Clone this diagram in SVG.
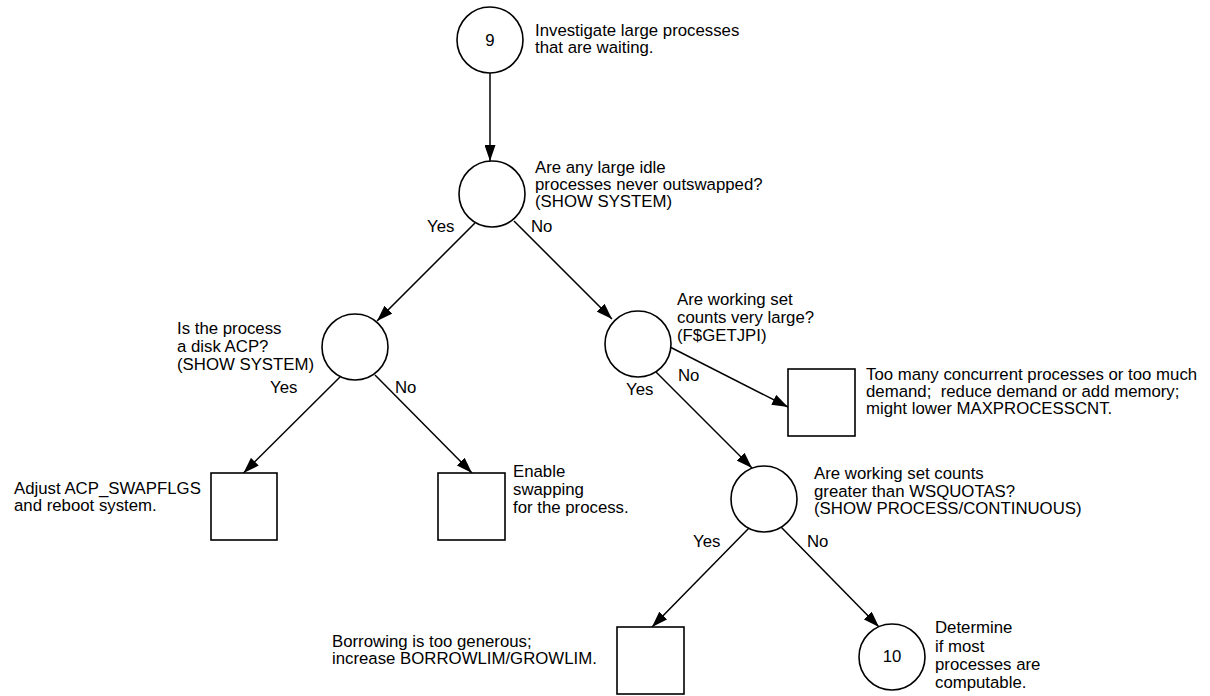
<svg xmlns="http://www.w3.org/2000/svg" width="1210" height="696" viewBox="0 0 1210 696">
<style>
  .node { fill: #fff; stroke: #000; stroke-width: 1.6; }
  .edge { fill: none; stroke: #000; stroke-width: 1.5; marker-end: url(#arrow); }
  text { font-family: "Liberation Sans", Arial, sans-serif; font-size: 16.8px; fill: #000; }
  .mid { text-anchor: middle; }
</style>
<defs>
  <marker id="arrow" markerUnits="userSpaceOnUse" markerWidth="17" markerHeight="11" refX="16" refY="5.5" orient="auto">
    <path d="M0,0 L16,5.5 L0,11 z" fill="#000"/>
  </marker>
</defs>
<rect width="1210" height="696" fill="#fff"/>

<g id="connectors">
  <line class="edge" x1="490" y1="73" x2="490" y2="161"/>
  <line class="edge" x1="475" y1="223" x2="377" y2="321"/>
  <line class="edge" x1="514" y1="221" x2="612" y2="319"/>
  <line class="edge" x1="340" y1="377" x2="243.5" y2="473"/>
  <line class="edge" x1="375" y1="375" x2="472" y2="473"/>
  <line class="edge" x1="670" y1="347" x2="788" y2="407"/>
  <line class="edge" x1="656" y1="372" x2="752" y2="468"/>
  <line class="edge" x1="749" y1="528" x2="652" y2="627"/>
  <line class="edge" x1="781" y1="527" x2="879" y2="627"/>
  <text x="427" y="232">Yes</text>
  <text x="531" y="232">No</text>
  <text x="270" y="393">Yes</text>
  <text x="395" y="393">No</text>
  <text x="626" y="395">Yes</text>
  <text x="678" y="381">No</text>
  <text x="693" y="547">Yes</text>
  <text x="807" y="547">No</text>
</g>

<g id="n9">
  <circle class="node" cx="490" cy="40" r="33"/>
  <text class="mid" x="490" y="46">9</text>
  <text x="535" y="36">Investigate large processes</text>
  <text x="535" y="53">that are waiting.</text>
</g>

<g id="q1">
  <circle class="node" cx="492" cy="194" r="33"/>
  <text x="535" y="173">Are any large idle</text>
  <text x="535" y="190">processes never outswapped?</text>
  <text x="535" y="207">(SHOW SYSTEM)</text>
</g>

<g id="q2">
  <circle class="node" cx="355" cy="347" r="33"/>
  <text x="177" y="334">Is the process</text>
  <text x="177" y="352">a disk ACP?</text>
  <text x="177" y="370">(SHOW SYSTEM)</text>
</g>

<g id="q3">
  <circle class="node" cx="638" cy="344" r="33"/>
  <text x="677" y="305">Are working set</text>
  <text x="677" y="323">counts very large?</text>
  <text x="677" y="341">(F$GETJPI)</text>
</g>

<g id="box-acp">
  <rect class="node" x="211" y="473" width="66" height="67"/>
  <text x="14" y="494">Adjust ACP_SWAPFLGS</text>
  <text x="14" y="511">and reboot system.</text>
</g>

<g id="box-swap">
  <rect class="node" x="438" y="473" width="67" height="67"/>
  <text x="513" y="477">Enable</text>
  <text x="513" y="495">swapping</text>
  <text x="513" y="513">for the process.</text>
</g>

<g id="box-demand">
  <rect class="node" x="788" y="369" width="67" height="67"/>
  <text x="866" y="380">Too many concurrent processes or too much</text>
  <text x="866" y="397">demand;&#160; reduce demand or add memory;</text>
  <text x="866" y="414">might lower MAXPROCESSCNT.</text>
</g>

<g id="q4">
  <circle class="node" cx="764" cy="499" r="33"/>
  <text x="814" y="479">Are working set counts</text>
  <text x="814" y="497">greater than WSQUOTAS?</text>
  <text x="814" y="514">(SHOW PROCESS/CONTINUOUS)</text>
</g>

<g id="box-borrow">
  <rect class="node" x="617" y="627" width="67" height="67"/>
  <text x="332" y="647">Borrowing is too generous;</text>
  <text x="332" y="664">increase BORROWLIM/GROWLIM.</text>
</g>

<g id="n10">
  <circle class="node" cx="892" cy="657" r="33"/>
  <text class="mid" x="892" y="662">10</text>
  <text x="935" y="633">Determine</text>
  <text x="935" y="652">if most</text>
  <text x="935" y="670">processes are</text>
  <text x="935" y="688">computable.</text>
</g>
</svg>
